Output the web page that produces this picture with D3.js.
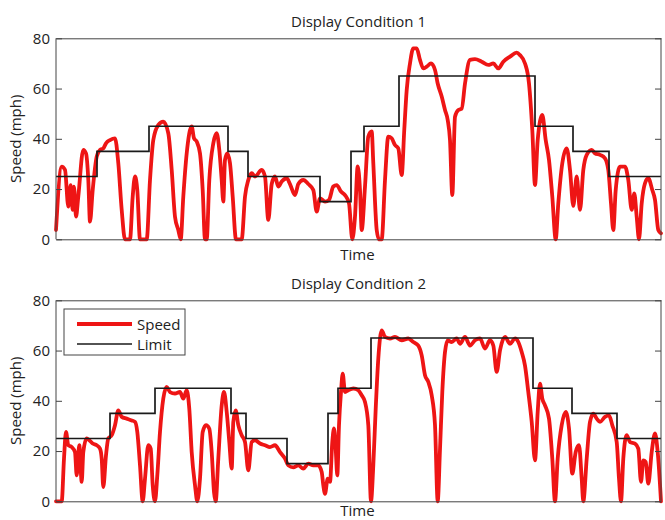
<!DOCTYPE html>
<html>
<head>
<meta charset="utf-8">
<script src="https://cdn.jsdelivr.net/npm/d3@7"></script>
<style>
  html, body { margin: 0; padding: 0; background: #fff; }
  svg { display: block; }
  text { font-family: "Open Sans", "Noto Sans", sans-serif; fill: #222; }
</style>
</head>
<body>
<svg id="chart" width="665" height="520"></svg>
<script>
// ---------------- DATA ----------------
const panelTitles = ["Display Condition 1", "Display Condition 2"];
const yTicks = [0, 20, 40, 60, 80];
const seriesNames = ["Speed", "Limit"];

// Speed limit steps (time at start of each step, final entry = end)
const limitTime1 = [0, 41, 93, 172, 192, 264, 295, 308, 343, 479, 517, 553, 605];
const limitVal1  = [25, 35, 45, 35, 25, 15, 35, 45, 65, 45, 35, 25];
const limitTime2 = [0, 54, 99, 175, 190, 231, 272, 282, 315, 477, 516, 561, 605];
const limitVal2  = [25, 35, 45, 35, 25, 15, 35, 45, 65, 45, 35, 25];

// Driven speed, condition 1
const speedTime1 = [0, 5.7, 9, 12.3, 14.7, 16.7, 18, 20, 22.3, 27.3, 30, 32.3, 34, 36.7, 40.7, 44, 47.3, 50, 54, 59,
  62.3, 65.7, 69, 74, 76.7, 79, 81.3, 84, 90.7, 94, 97.3, 102.3, 107.3, 112.3, 115.7, 119, 122.3, 124.7, 127.3, 130.7,
  135.7, 138, 140.7, 144, 146.7, 149, 150.7, 153.3, 157.3, 160.7, 163.3, 165.7, 167.3, 169, 171.3, 174, 176.7, 180, 185.7, 189,
  192.3, 195.7, 199, 205.7, 209, 212.3, 215.7, 219, 222.3, 225.7, 230.7, 234, 239, 242.3, 247.3, 252.3, 257.3, 260.7, 264, 269,
  273, 277.3, 280.7, 285, 289, 293, 296.3, 299, 301.7, 304, 305.7, 309, 312.3, 315.7, 317.3, 320.7, 323, 325.7, 329, 332.3,
  335.7, 339, 342.3, 345.7, 348.3, 350.7, 354, 357.3, 360.7, 364, 367.3, 370.7, 375, 379, 381.7, 385.7, 389, 391.7, 394, 396.3,
  399, 402.3, 405.7, 409, 414, 419, 425.7, 432.3, 437.3, 442.3, 447.3, 454, 460.7, 464, 469, 473, 476.3, 479, 481.7, 486.3,
  489.7, 493, 496.3, 499.7, 502.3, 506.3, 510.7, 514, 517.3, 520.7, 524, 527.3, 530.7, 535.7, 539, 544, 549, 552.3, 555, 557.3,
  559.7, 564, 569, 572.3, 575.7, 578.3, 580.7, 583, 585.7, 589, 592.3, 596.3, 599, 602.3, 605];
const speed1 = [3.7, 28.9, 27.6, 13, 21.6, 11.7, 21, 9, 17, 35.6, 34.2, 23.6, 7, 19.6, 32.9, 35.6, 36.2, 38.2, 39.5, 40.2,
  30.3, 11.7, 0, 0, 17, 25, 19.6, 0, 0, 23.6, 39.5, 45.5, 46.8, 42.2, 27.6, 9, 3.7, 0, 17, 34.2,
  44.9, 40.2, 38.9, 34.2, 19.6, 0, 0, 23.6, 38.2, 42.2, 35.6, 23.6, 15, 31.6, 34.2, 30.3, 17, 0, 0, 17,
  23.6, 26.3, 25, 27.6, 25, 7.7, 22, 25, 21, 23, 24.3, 22, 17.6, 22, 23.6, 22, 19.6, 11, 16.3, 15,
  15.7, 21, 21.6, 19, 17.6, 14.3, 0, 9, 29, 19.6, 3.7, 21, 40.9, 42.9, 30.3, 3.7, 0, 0, 23.6, 40.9,
  40.2, 37.5, 36.2, 25.6, 43.8, 59.4, 70, 76, 76, 71.4, 68, 68.7, 70, 67.4, 62, 56.8, 51.5, 47.5, 39.5, 17.6,
  48.8, 51.5, 52, 62, 71.4, 71.7, 70.7, 69.4, 70, 68, 70.7, 72.7, 74.3, 73.3, 70, 62, 43.5, 21.6, 39.5, 49.5,
  39.5, 31.6, 17, 0, 14.3, 30.3, 36.2, 27.6, 13.3, 25, 11.7, 27.6, 33.6, 35.6, 34.2, 33.6, 32.2, 27.6, 14.3, 3.7,
  19.6, 28.9, 28.9, 23.6, 11.7, 18.3, 9, 0, 14.3, 22.3, 24.3, 19.6, 15.7, 3.7, 2.4];

// Driven speed, condition 2
const speedTime2 = [0, 5.7, 8, 10, 12.3, 15.7, 19, 20.7, 23.3, 25.7, 27.3, 30.7, 33.3, 36.7, 40.7, 44, 45.7, 47.3, 50, 52.3,
  55.7, 59, 62.3, 65.7, 70.7, 75.7, 79, 81.3, 84, 86.7, 89, 92.3, 94.7, 96.7, 99, 101.3, 104, 107.3, 110.7, 114,
  119, 124, 127.3, 130.7, 133.3, 135.7, 139, 141.3, 144, 146.7, 150, 153.3, 155.7, 158, 159.7, 162.3, 165.7, 168, 170.7, 173.3,
  175.7, 177.3, 179.7, 182.3, 185.7, 189, 192.3, 195.7, 199, 204, 209, 214, 219, 224, 229, 232.3, 237.3, 242.3, 247.3, 252.3,
  257.3, 262.3, 265.7, 267.3, 269, 271.7, 274, 276.3, 278, 279.7, 281.3, 283, 285, 286.7, 289, 292.3, 297.3, 302.3, 305.7, 309,
  312.3, 315, 317.3, 319.7, 322.3, 325.7, 329, 334, 339, 345.7, 352.3, 357.3, 362.3, 365.7, 369, 372.3, 375.7, 379, 381.7, 384,
  386.3, 389, 391.7, 395.7, 400.7, 404, 409, 414, 419, 424, 429, 434, 437.3, 440.7, 444, 449, 454, 459, 462.3, 465.7,
  469, 472.3, 475.7, 479, 481.7, 484, 486.3, 489, 493, 496.3, 499, 501.7, 505.7, 509.7, 513, 516.3, 519.7, 523, 525.7, 527.3,
  530.7, 534, 537.3, 540.7, 544, 549, 553, 556.3, 560.7, 563, 565, 567.3, 570.7, 574, 579, 582.3, 585, 587.3, 589.7, 592.3,
  595.7, 599, 601.7, 605];
const speed2 = [0, 0, 17, 27.6, 22.3, 21.6, 19.6, 10.3, 22.3, 7.7, 19.6, 25, 24.3, 23, 22.3, 21, 17, 5.7, 18.3, 25,
  26.3, 30.3, 36.2, 33.6, 32.9, 32.2, 31.6, 27.6, 14.3, 0, 9, 22.3, 21, 6.4, 0, 10.3, 27.6, 40.9, 45.5, 43.5,
  42.9, 43.5, 40.9, 44.2, 36.8, 19.6, 6.4, 0, 9, 27.6, 30.3, 28.9, 19.6, 3.7, 0, 17, 38.2, 43.5, 35.6, 23.6,
  13, 31.6, 36.2, 30.3, 26.3, 23.6, 12.3, 23.6, 24.3, 23, 22.3, 21.6, 22.3, 19.6, 17, 14.3, 13.5, 14.3, 13, 15,
  14.3, 14.3, 11.7, 6.4, 3, 9, 7.7, 23.6, 29, 21, 10.3, 30.3, 43.5, 50.8, 43.5, 44.2, 44.9, 44.2, 42.2, 39.5,
  30.3, 0, 14.3, 36.8, 56.8, 68, 65.4, 64.8, 65.4, 64.1, 64.8, 63.4, 62, 58.1, 50.2, 47.5, 42.2, 30.3, 0, 20.7,
  43.5, 59.4, 64, 63.4, 64.8, 62.7, 65.4, 62, 64.1, 64.8, 60.8, 64.1, 62, 51.5, 60.1, 65.4, 62.7, 64.8, 63.4, 59.4,
  54, 43.5, 31.6, 16.3, 35.6, 46.8, 40.9, 38.2, 32.9, 17, 0, 17, 30.3, 35.6, 29, 11, 19.6, 22.3, 9, 0,
  17, 31.6, 34.9, 32.9, 31.6, 33.6, 34.2, 30.3, 23.6, 9, 0, 17, 26.3, 23.6, 23, 21, 7.7, 16.3, 15.7, 7,
  19.6, 27, 19.6, 0];

// ---------------- LAYOUT ----------------
const svg = d3.select("#chart");
const left = 56, right = 661;
const panels = [
  { title: panelTitles[0], top: 38.3, bottom: 239.3, tS: speedTime1, vS: speed1, tL: limitTime1, vL: limitVal1, legend: false, xlabY: 259.5 },
  { title: panelTitles[1], top: 300.3, bottom: 501.3, tS: speedTime2, vS: speed2, tL: limitTime2, vL: limitVal2, legend: true, xlabY: 515.5 }
];
const red = "#ee1515";
const x = d3.scaleLinear().domain([0, 605]).range([left, right]);

panels.forEach(p => {
  const y = d3.scaleLinear().domain([0, 80]).range([p.bottom, p.top]);
  const g = svg.append("g");

  // speed line
  const speedPts = p.tS.map((t, i) => [t, p.vS[i]]);
  const speedLine = d3.line().x(d => x(d[0])).y(d => y(d[1])).curve(d3.curveMonotoneX);
  g.append("path").datum(speedPts)
    .attr("d", speedLine)
    .attr("fill", "none").attr("stroke", red).attr("stroke-width", 3.8)
    .attr("stroke-linejoin", "round").attr("stroke-linecap", "round");

  // limit step line
  const limPts = p.tL.map((t, i) => [t, p.vL[Math.min(i, p.vL.length - 1)]]);
  const limLine = d3.line().x(d => x(d[0])).y(d => y(d[1])).curve(d3.curveStepAfter);
  g.append("path").datum(limPts)
    .attr("d", limLine)
    .attr("fill", "none").attr("stroke", "#1a1a1a").attr("stroke-width", 1.7);

  // axes box
  const axL = g.append("g").attr("transform", `translate(${left},0)`)
    .call(d3.axisLeft(y).tickValues(yTicks).tickSize(-6).tickPadding(6));
  const axR = g.append("g").attr("transform", `translate(${right},0)`)
    .call(d3.axisRight(y).tickValues(yTicks).tickSize(-6).tickFormat(""));
  const axB = g.append("g").attr("transform", `translate(0,${p.bottom})`)
    .call(d3.axisBottom(x).tickValues([]).tickSizeOuter(0));
  const axT = g.append("g").attr("transform", `translate(0,${p.top})`)
    .call(d3.axisTop(x).tickValues([]).tickSizeOuter(0));
  [axL, axR, axB, axT].forEach(a => {
    a.selectAll("path.domain").attr("stroke", "#444").attr("stroke-width", 1);
    a.selectAll(".tick line").attr("stroke", "#444");
  });
  axL.selectAll("path.domain").attr("d", `M0,${p.bottom}V${p.top}`);
  axR.selectAll("path.domain").attr("d", `M0,${p.bottom}V${p.top}`);
  axL.selectAll(".tick text")
    .style("font-family", '"Open Sans", sans-serif')
    .style("font-size", "15px").attr("fill", "#222");

  // title
  g.append("text").attr("x", (left + right) / 2).attr("y", p.top - 11.5)
    .attr("text-anchor", "middle").style("font-size", "15px").text(p.title);
  // x label
  g.append("text").attr("x", (left + right) / 2 - 1).attr("y", p.xlabY)
    .attr("text-anchor", "middle").style("font-size", "15px").text("Time");
  // y label
  g.append("text")
    .attr("transform", `translate(21,${(p.top + p.bottom) / 2}) rotate(-90)`)
    .attr("text-anchor", "middle").style("font-size", "15px").text("Speed (mph)");

  if (p.legend) {
    const lg = g.append("g").attr("transform", "translate(64,309)");
    lg.append("rect").attr("width", 121).attr("height", 46)
      .attr("fill", "#fff").attr("stroke", "#444").attr("stroke-width", 1);
    const colors = [red, "#1a1a1a"];
    const widths = [3.8, 1.7];
    seriesNames.forEach((n, i) => {
      const yy = 15 + i * 20;
      lg.append("line").attr("x1", 13).attr("x2", 68).attr("y1", yy).attr("y2", yy)
        .attr("stroke", colors[i]).attr("stroke-width", widths[i]);
      lg.append("text").attr("x", 73).attr("y", yy + 5.5)
        .style("font-size", "15px").text(n);
    });
  }
});
</script>
</body>
</html>
